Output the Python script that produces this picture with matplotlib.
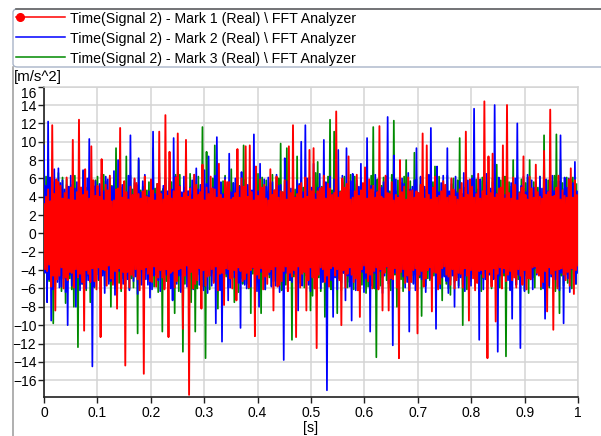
import numpy as np
import matplotlib.pyplot as plt
from matplotlib.lines import Line2D
from matplotlib.patches import FancyBboxPatch

plt.rcParams['font.family'] = ['Liberation Sans', 'DejaVu Sans']

W, H = 601, 436

# acceleration: upper and lower peak of every
# half-period, 260 periods evenly spread over 0..1 s
red_hi = [
    3.2, 4.0, 4.8, 3.5, 11.8, 4.3, 5.9, 5.6, 5.2, 3.8, 4.4, 6.1, 3.7, 5.0, 10.2, 3.6, 4.5, 12.4, 5.0, 4.2,
    7.0, 4.6, 3.8, 9.5, 5.8, 4.1, 5.2, 4.0, 8.1, 3.6, 5.3, 4.7, 6.3, 3.5, 3.6, 4.8, 4.9, 11.5, 3.9, 5.7,
    4.5, 3.7, 5.1, 4.2, 6.0, 5.5, 4.3, 3.8, 4.6, 6.2, 4.0, 3.9, 5.9, 4.7, 3.6, 5.4, 11.1, 4.3, 3.7, 12.9,
    4.1, 8.9, 3.8, 4.6, 6.1, 10.9, 5.1, 3.9, 4.4, 10.2, 4.0, 4.9, 3.7, 6.4, 5.3, 4.2, 4.5, 7.5, 3.6, 5.0,
    4.3, 6.2, 4.9, 4.8, 3.9, 7.6, 4.2, 3.8, 5.8, 5.6, 5.6, 3.7, 3.9, 4.4, 9.2, 3.9, 6.0, 5.1, 9.5, 4.0,
    9.6, 4.5, 3.6, 7.3, 4.1, 5.9, 5.0, 5.3, 3.8, 3.6, 7.0, 4.2, 4.7, 6.2, 3.9, 4.6, 4.5, 5.8, 3.7, 9.5,
    4.4, 11.8, 3.9, 4.3, 5.2, 5.5, 3.8, 6.1, 4.0, 9.1, 4.6, 9.3, 3.7, 4.6, 4.9, 5.0, 6.3, 3.8, 5.4, 4.9,
    4.2, 4.4, 13.3, 3.9, 4.5, 6.0, 5.0, 5.4, 8.4, 3.7, 3.9, 4.6, 6.4, 4.1, 4.7, 5.5, 7.2, 3.8, 5.9, 4.8,
    5.2, 3.9, 4.5, 11.7, 4.0, 3.8, 6.3, 4.4, 4.3, 5.6, 3.6, 4.2, 3.9, 8.0, 4.5, 5.1, 3.7, 6.1, 4.6, 4.7,
    3.9, 4.6, 4.4, 5.3, 10.9, 3.8, 9.6, 4.2, 3.7, 5.0, 6.2, 3.9, 4.1, 4.6, 5.7, 5.3, 3.9, 4.1, 6.0, 4.8,
    4.0, 3.7, 4.8, 5.5, 3.9, 11.1, 4.2, 5.9, 5.1, 3.9, 4.3, 6.5, 3.8, 4.6, 14.4, 4.1, 8.4, 4.4, 8.7, 3.9,
    4.3, 4.9, 5.0, 9.6, 3.8, 14.0, 4.4, 3.8, 6.1, 5.3, 3.6, 4.4, 5.0, 8.4, 4.2, 3.7, 6.2, 4.9, 3.9, 7.5,
    4.5, 4.0, 3.8, 9.0, 4.2, 4.5, 13.5, 4.0, 4.1, 5.0, 6.3, 3.7, 4.7, 4.1, 3.9, 5.9, 7.1, 3.9, 5.8, 4.2,
]
red_lo = [
    -3.9, -4.1, -3.4, -5.8, -4.6, -8.4, -5.0, -4.6, -3.7, -6.0, -4.8, -5.1, -4.2, -4.3, -5.9, -3.9, -4.8, -4.4, -5.3, -10.6,
    -4.0, -4.4, -5.3, -3.8, -5.2, -6.1, -3.7, -11.3, -3.9, -4.0, -5.7, -3.5, -4.9, -5.6, -4.1, -8.2, -3.8, -6.0, -4.2, -14.4,
    -4.2, -5.9, -4.5, -4.7, -3.9, -5.0, -6.2, -3.9, -15.3, -3.7, -4.4, -5.2, -5.3, -3.6, -5.8, -4.8, -4.0, -4.8, -6.1, -3.9,
    -11.3, -4.3, -4.1, -5.9, -5.2, -3.9, -3.8, -10.4, -4.6, -3.5, -17.6, -4.2, -6.0, -5.5, -5.1, -3.8, -8.2, -4.0, -5.7, -4.7,
    -4.6, -3.9, -5.4, -3.6, -6.2, -4.4, -4.3, -7.8, -3.8, -3.9, -4.9, -6.0, -4.0, -7.3, -3.7, -4.1, -5.2, -5.0, -4.3, -5.9,
    -4.0, -3.7, -11.2, -4.5, -4.9, -3.8, -6.1, -4.7, -5.5, -4.2, -3.9, -8.4, -3.6, -5.8, -5.6, -5.2, -4.1, -3.6, -6.3, -4.3,
    -4.7, -4.0, -11.3, -3.6, -5.9, -4.4, -4.2, -8.4, -5.1, -3.7, -4.8, -6.0, -12.5, -4.5, -3.7, -3.9, -5.3, -4.6, -5.8, -3.8,
    -3.6, -4.6, -3.9, -5.1, -10.0, -4.0, -5.9, -4.4, -3.7, -4.5, -5.3, -4.9, -6.2, -9.1, -3.9, -3.5, -4.3, -5.2, -4.5, -6.0,
    -4.1, -3.7, -6.1, -3.9, -8.4, -4.3, -3.6, -8.4, -4.9, -5.0, -3.8, -5.9, -13.6, -4.2, -3.9, -5.4, -4.6, -6.2, -5.3, -4.0,
    -3.8, -10.9, -4.5, -4.1, -5.8, -4.9, -4.0, -3.7, -8.5, -4.2, -4.3, -6.1, -5.5, -3.8, -3.6, -4.5, -4.7, -5.6, -3.9, -6.0,
    -5.1, -4.3, -4.4, -5.9, -3.8, -4.6, -9.5, -4.0, -4.9, -6.2, -5.4, -4.1, -4.0, -4.8, -3.9, -13.6, -4.2, -5.8, -3.8, -9.6,
    -4.4, -3.7, -6.0, -3.8, -5.2, -4.5, -4.1, -5.1, -4.8, -5.9, -3.9, -4.6, -5.6, -4.0, -6.1, -4.9, -5.0, -3.7, -3.6, -4.3,
    -4.6, -5.8, -5.3, -4.1, -8.5, -3.7, -4.4, -10.5, -4.0, -6.0, -3.9, -3.8, -4.5, -5.1, -4.2, -5.7, -3.8, -6.6, -4.0, -3.5,
]
blue_hi = [
    9.6, 5.2, 12.2, 6.1, 5.0, 7.0, 4.4, 7.1, 5.5, 5.8, 4.8, 5.3, 5.1, 6.3, 3.7, 4.9, 5.6, 5.9, 5.0, 6.9,
    4.5, 6.0, 10.3, 4.9, 5.2, 5.7, 4.7, 5.4, 6.5, 4.6, 6.2, 5.9, 4.6, 5.1, 6.8, 4.7, 8.0, 4.3, 5.3, 5.6,
    4.4, 6.3, 10.7, 4.2, 5.9, 5.3, 8.2, 4.5, 5.7, 6.4, 4.1, 4.6, 5.8, 11.1, 4.3, 5.0, 6.6, 4.5, 5.2, 6.0,
    4.6, 5.7, 4.8, 10.4, 6.2, 3.9, 5.2, 4.5, 6.2, 5.5, 4.6, 5.0, 5.8, 6.4, 7.1, 4.8, 5.3, 4.5, 6.9, 5.4,
    8.4, 4.4, 5.0, 6.3, 10.5, 4.9, 5.6, 4.3, 6.1, 4.7, 8.7, 4.5, 5.5, 6.0, 4.0, 5.1, 6.7, 4.6, 4.8, 5.3,
    5.9, 4.7, 10.8, 6.2, 4.6, 7.6, 4.4, 5.9, 5.1, 6.1, 4.3, 5.6, 4.7, 6.4, 5.2, 5.3, 4.1, 8.2, 5.7, 3.8,
    4.9, 6.1, 4.0, 5.8, 5.4, 10.0, 4.5, 11.8, 6.0, 4.2, 5.0, 7.6, 4.3, 5.0, 6.5, 3.9, 10.2, 5.6, 4.6, 6.2,
    4.3, 5.9, 5.0, 9.1, 4.4, 6.3, 4.2, 9.3, 4.8, 5.7, 6.5, 4.1, 5.8, 5.1, 7.6, 4.3, 6.1, 10.4, 4.6, 5.2,
    4.5, 6.4, 4.6, 4.9, 5.0, 5.6, 6.2, 12.7, 4.3, 4.6, 8.5, 5.9, 4.1, 4.8, 6.0, 5.4, 3.7, 6.6, 4.8, 5.1,
    5.8, 9.3, 4.4, 6.2, 4.8, 5.1, 4.2, 6.4, 11.5, 4.9, 5.5, 7.3, 4.5, 5.5, 6.3, 3.8, 9.3, 4.6, 5.9, 4.7,
    6.2, 4.4, 5.7, 4.3, 6.6, 5.0, 5.8, 4.5, 6.0, 13.6, 4.4, 4.8, 5.9, 4.3, 5.3, 6.5, 3.8, 4.9, 5.6, 14.0,
    4.3, 6.1, 4.9, 5.7, 4.2, 6.4, 4.4, 5.5, 4.6, 6.0, 12.0, 4.2, 5.2, 6.2, 4.5, 6.4, 4.0, 5.8, 5.0, 5.6,
    4.4, 6.2, 4.9, 4.5, 5.9, 4.6, 5.4, 6.3, 4.6, 4.3, 5.7, 10.7, 4.5, 6.1, 5.0, 6.0, 4.4, 5.5, 7.8, 4.6,
]
blue_lo = [
    -4.3, -7.5, -5.0, -9.5, -6.1, -4.7, -5.3, -5.9, -5.8, -4.9, -6.4, -10.0, -4.5, -5.7, -5.4, -8.0, -4.2, -6.2, -5.5, -4.8,
    -6.0, -5.1, -4.2, -14.5, -5.8, -3.6, -5.0, -6.1, -4.6, -6.5, -3.9, -5.5, -5.2, -5.4, -6.7, -4.9, -4.1, -5.9, -5.5, -6.0,
    -5.0, -6.2, -4.4, -5.2, -4.7, -6.6, -4.2, -5.6, -4.8, -5.0, -5.6, -7.0, -6.1, -4.6, -4.3, -5.1, -6.3, -4.0, -5.9, -4.5,
    -4.7, -6.0, -7.3, -4.3, -5.5, -4.6, -6.4, -3.9, -4.4, -5.8, -5.3, -3.6, -6.1, -5.1, -4.5, -5.6, -5.0, -6.2, -4.3, -6.5,
    -4.6, -5.7, -5.2, -9.8, -4.3, -6.2, -11.8, -5.0, -4.4, -7.3, -5.9, -3.9, -4.8, -6.6, -5.4, -10.3, -4.2, -5.6, -6.0, -4.2,
    -5.8, -3.8, -4.9, -6.3, -8.0, -4.2, -5.0, -6.1, -3.7, -4.5, -5.8, -5.2, -5.7, -4.0, -6.4, -4.8, -13.8, -4.3, -5.5, -5.1,
    -5.3, -4.4, -6.2, -8.4, -4.1, -5.7, -4.0, -4.3, -5.6, -6.3, -3.8, -4.5, -5.9, -4.2, -6.0, -5.3, -4.0, -17.1, -4.8, -5.1,
    -9.1, -4.8, -6.1, -4.5, -5.4, -4.3, -7.3, -4.6, -5.8, -9.5, -4.4, -6.2, -5.1, -5.0, -4.2, -6.4, -4.9, -4.1, -10.7, -5.7,
    -4.3, -6.0, -5.9, -4.1, -6.5, -4.6, -3.7, -5.5, -5.0, -12.2, -4.3, -5.2, -6.3, -3.9, -4.7, -5.9, -5.3, -10.7, -4.2, -5.5,
    -6.2, -4.5, -4.6, -5.0, -5.3, -6.4, -3.8, -4.9, -5.6, -4.1, -10.4, -4.6, -6.0, -4.8, -4.7, -5.2, -6.5, -5.1, -4.6, -8.0,
    -4.5, -5.9, -4.8, -5.6, -6.3, -4.4, -4.6, -5.7, -4.3, -4.7, -5.2, -11.6, -4.4, -6.1, -5.0, -6.0, -4.5, -5.4, -5.0, -4.2,
    -12.9, -4.6, -5.8, -4.3, -4.8, -5.1, -6.2, -9.3, -4.2, -5.6, -4.5, -12.5, -4.1, -6.3, -4.4, -4.6, -5.0, -6.1, -3.8, -4.5,
    -4.5, -4.8, -6.0, -9.3, -4.1, -5.7, -4.7, -3.7, -5.0, -5.8, -6.2, -4.3, -9.8, -4.5, -4.9, -6.4, -3.9, -4.6, -5.5, -4.3,
]
green_hi = [
    4.6, 6.2, 4.0, 5.7, 4.7, 5.6, 4.3, 6.6, 5.0, 6.1, 4.4, 5.9, 4.6, 5.3, 6.0, 6.3, 4.5, 5.6, 4.9, 6.8,
    4.3, 5.0, 6.1, 4.6, 4.9, 5.8, 6.2, 4.1, 4.5, 6.4, 5.7, 4.4, 6.0, 5.2, 4.0, 9.3, 4.6, 5.9, 5.0, 4.3,
    8.4, 4.5, 6.3, 4.8, 5.5, 4.4, 8.0, 4.7, 5.1, 6.2, 4.7, 5.6, 4.0, 9.3, 4.9, 5.4, 6.1, 4.6, 4.9, 5.8,
    4.1, 6.0, 5.6, 4.3, 6.4, 4.8, 6.4, 4.4, 5.0, 5.9, 4.6, 6.5, 4.2, 4.9, 5.3, 6.2, 3.8, 11.6, 4.4, 8.9,
    4.6, 4.9, 6.0, 9.6, 4.5, 5.8, 5.0, 5.7, 6.3, 3.9, 4.8, 7.0, 5.5, 4.3, 6.1, 5.2, 4.4, 9.6, 5.9, 4.0,
    6.2, 4.6, 4.9, 5.3, 6.5, 4.5, 6.1, 4.3, 5.8, 4.6, 5.5, 6.4, 4.2, 4.4, 6.0, 9.8, 4.5, 5.7, 9.3, 4.6,
    4.4, 6.3, 4.8, 8.4, 4.2, 5.9, 5.0, 5.9, 4.6, 6.1, 4.5, 4.5, 6.6, 7.8, 4.1, 5.1, 5.8, 4.0, 6.2, 12.4,
    4.7, 11.1, 4.2, 5.9, 4.6, 5.6, 6.2, 3.8, 4.5, 6.4, 4.7, 6.2, 5.4, 4.5, 6.0, 4.1, 5.7, 5.0, 4.6, 6.3,
    11.6, 4.5, 5.9, 4.3, 5.2, 6.1, 4.0, 5.6, 4.6, 6.4, 12.3, 4.6, 5.8, 4.9, 5.5, 6.2, 8.0, 4.3, 5.7, 4.4,
    8.8, 5.9, 4.1, 6.1, 5.3, 4.8, 6.4, 4.2, 6.0, 5.6, 7.3, 4.9, 6.2, 4.5, 5.5, 4.6, 6.3, 4.4, 5.4, 6.0,
    4.6, 5.8, 10.4, 4.3, 5.0, 6.2, 3.8, 5.5, 6.3, 4.2, 5.9, 4.8, 5.7, 6.1, 4.0, 5.6, 6.6, 4.6, 6.0, 4.5,
    7.5, 4.4, 5.8, 4.3, 6.2, 4.8, 5.6, 5.1, 8.0, 4.7, 6.3, 4.5, 5.9, 4.9, 5.5, 6.1, 8.0, 4.4, 5.6, 4.8,
    5.0, 6.2, 3.9, 10.7, 4.5, 5.8, 4.7, 5.7, 6.3, 10.8, 4.4, 8.0, 5.5, 4.9, 6.1, 3.8, 5.9, 6.1, 4.8, 5.4,
]
green_lo = [
    -3.8, -6.0, -5.2, -4.5, -9.8, -5.8, -4.1, -5.0, -6.3, -4.6, -7.6, -5.3, -4.9, -6.1, -8.0, -4.7, -12.4, -5.6, -5.5, -4.9,
    -6.2, -4.6, -7.5, -5.0, -5.9, -4.5, -5.1, -6.4, -4.3, -5.7, -3.7, -5.2, -8.0, -4.6, -6.0, -4.8, -5.4, -6.3, -4.9, -5.5,
    -4.6, -6.1, -4.9, -5.9, -4.3, -10.9, -5.6, -4.2, -6.2, -3.8, -5.0, -6.0, -4.7, -5.8, -4.5, -6.4, -4.1, -10.7, -5.7, -5.2,
    -4.9, -5.9, -4.4, -8.7, -4.8, -6.3, -4.5, -12.9, -5.5, -3.9, -5.1, -7.5, -4.6, -10.7, -6.0, -4.0, -5.0, -5.8, -13.6, -4.4,
    -6.1, -4.3, -5.3, -4.5, -8.2, -4.8, -6.2, -4.4, -4.7, -5.9, -5.0, -4.3, -7.5, -4.6, -6.4, -4.9, -5.5, -4.5, -5.5, -6.0,
    -8.7, -4.4, -5.8, -4.7, -4.9, -8.7, -4.2, -6.1, -4.5, -4.8, -5.7, -3.6, -5.2, -5.7, -4.3, -6.2, -4.3, -5.6, -4.4, -5.1,
    -11.6, -4.7, -6.0, -4.5, -5.4, -4.3, -5.9, -4.6, -4.9, -8.4, -6.8, -4.4, -5.8, -4.8, -6.3, -5.0, -9.1, -4.5, -5.2, -6.1,
    -5.0, -4.4, -8.7, -4.9, -6.2, -4.3, -4.5, -5.9, -5.3, -4.2, -6.1, -4.6, -3.7, -5.6, -5.6, -4.4, -6.5, -5.8, -4.2, -4.7,
    -6.0, -13.5, -4.2, -5.7, -4.8, -3.8, -5.1, -5.9, -6.2, -4.1, -4.5, -8.0, -4.9, -5.0, -6.3, -4.3, -4.7, -5.8, -4.6, -5.4,
    -4.5, -6.1, -4.8, -9.0, -4.4, -5.7, -4.9, -5.1, -6.2, -4.6, -4.2, -5.9, -5.0, -7.3, -4.6, -5.5, -6.0, -6.7, -4.1, -5.3,
    -4.8, -5.7, -4.4, -10.0, -4.6, -6.1, -4.2, -5.2, -4.5, -5.8, -5.0, -3.6, -6.3, -4.9, -4.4, -5.5, -4.2, -6.0, -4.8, -5.0,
    -4.3, -5.9, -4.9, -4.6, -13.4, -4.4, -6.1, -4.7, -4.5, -5.6, -5.0, -5.3, -4.2, -6.2, -4.6, -6.5, -4.3, -4.8, -5.9, -3.7,
    -4.4, -6.1, -4.8, -4.2, -5.2, -5.9, -3.8, -4.5, -6.3, -4.3, -8.7, -4.6, -5.7, -4.4, -5.4, -4.9, -6.0, -4.3, -5.5, -4.2,
]

series_labels = [
    'Time(Signal 2) - Mark 1 (Real) \\ FFT Analyzer',
    'Time(Signal 2) - Mark 2 (Real) \\ FFT Analyzer',
    'Time(Signal 2) - Mark 3 (Real) \\ FFT Analyzer',
]
series_colors = ['#ff0000', '#0000ff', '#008a00']
y_ticks = list(range(-16, 17, 2))
x_ticks = [0, 0.1, 0.2, 0.3, 0.4, 0.5, 0.6, 0.7, 0.8, 0.9, 1]
x_tick_labels = ['0', '0.1', '0.2', '0.3', '0.4', '0.5', '0.6', '0.7', '0.8', '0.9', '1']


def fx(x):
    return x / W


def fy(y):
    return 1 - y / H


def trace(hi, lo):
    # peaks in time order: hi, lo, hi, lo ...
    return np.column_stack([hi, lo]).ravel()


fig = plt.figure(figsize=(W / 100, H / 100), dpi=100)

ax = fig.add_axes([fx(44), fy(396.7), 534 / W, 310 / H])
t = np.linspace(0, 1, 2 * len(red_hi))
ax.plot(t, trace(green_hi, green_lo), color=series_colors[2], lw=1.25, zorder=2)
ax.plot(t, trace(blue_hi, blue_lo), color=series_colors[1], lw=1.25, zorder=3)
ax.plot(t, trace(red_hi, red_lo), color=series_colors[0], lw=1.35, zorder=4)

ax.set_xlim(0, 1)
ax.set_ylim(-17.8, 16)
ax.set_yticks(y_ticks)
ax.set_xticks(x_ticks)
ax.set_xticklabels(x_tick_labels)
ax.grid(color='#d4d4d4', lw=1.1)
ax.set_axisbelow(True)
for side in ['top', 'right']:
    ax.spines[side].set_color('#d4d4d4')
    ax.spines[side].set_linewidth(1.1)
for side in ['left', 'bottom']:
    ax.spines[side].set_color('#202020')
    ax.spines[side].set_linewidth(1.2)
ax.tick_params(direction='out', length=4, width=1, color='#202020',
               labelsize=10)
ax.tick_params(axis='x', pad=2.5)
ax.tick_params(axis='y', pad=1.5)
# top label sits just below the 16 line, as in the source
ax.get_yticklabels()[-1].set_va('top')

fig.text(fx(14), fy(77), '[m/s^2]', fontsize=10.8, va='center', ha='left')
fig.text(fx(311), fy(427.5), '[s]', fontsize=10.2, va='center', ha='center')

# legend panel on top
panel = FancyBboxPatch((fx(13), fy(67)), fx(640) - fx(13), fy(9) - fy(67),
                       boxstyle='round,pad=0,rounding_size=0.008',
                       transform=fig.transFigure, facecolor='white',
                       edgecolor='#a8b4c8', lw=1.0)
fig.patches.append(panel)
fig.lines.append(Line2D([fx(16), fx(601)], [fy(9), fy(9)], color='#666666',
                        lw=1.2, transform=fig.transFigure))
fig.lines.append(Line2D([fx(13), fx(13)], [fy(67), fy(436)], color='#9a9a9a',
                        lw=1.1, transform=fig.transFigure))

row_y = [17.5, 37.5, 57.5]
for i, (lab, col) in enumerate(zip(series_labels, series_colors)):
    fig.lines.append(Line2D([fx(16), fx(65)], [fy(row_y[i]), fy(row_y[i])],
                            color=col, lw=1.1, transform=fig.transFigure))
    if i == 0:
        fig.lines.append(Line2D([fx(20)], [fy(row_y[i])], color=col, marker='o',
                                markersize=5.5, transform=fig.transFigure))
    fig.text(fx(70), fy(row_y[i] + 1.5), lab, fontsize=10.2, va='center', ha='left')

fig.savefig('out.png', dpi=100)
